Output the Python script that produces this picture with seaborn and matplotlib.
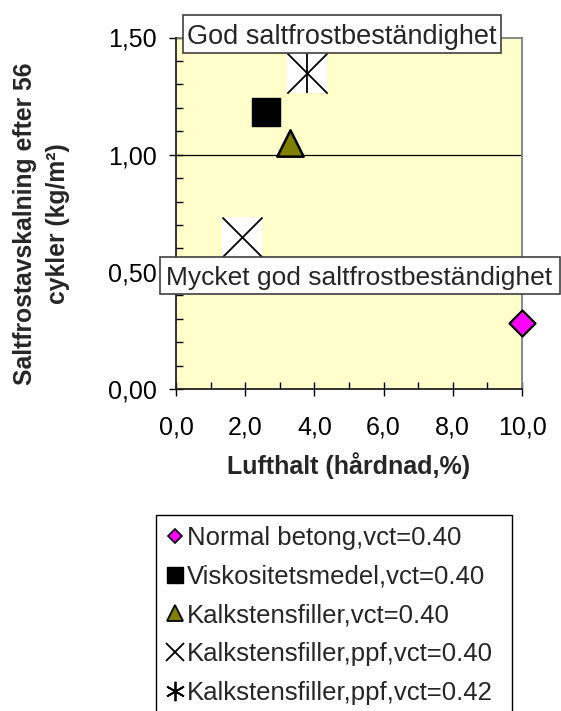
import matplotlib
matplotlib.use("Agg")
import matplotlib.pyplot as plt
from matplotlib.lines import Line2D
from matplotlib.patches import Rectangle
from matplotlib.ticker import MultipleLocator
import seaborn as sns
import pandas as pd

sns.set_theme(style="white")
plt.rcParams["font.family"] = ["Liberation Sans", "DejaVu Sans"]

# Measured series: air content (%) vs. salt-frost scaling after 56 cycles (kg/m²)
series_names = [
    "Normal betong,vct=0.40",
    "Viskositetsmedel,vct=0.40",
    "Kalkstensfiller,vct=0.40",
    "Kalkstensfiller,ppf,vct=0.40",
    "Kalkstensfiller,ppf,vct=0.42",
]
air_content = [10.0, 2.6, 3.3, 1.9, 3.8]
scaling = [0.28, 1.18, 1.05, 0.65, 1.35]

xtick_values = [0, 2, 4, 6, 8, 10]
xtick_labels = ["0,0", "2,0", "4,0", "6,0", "8,0", "10,0"]
ytick_values = [0.0, 0.5, 1.0, 1.5]
ytick_labels = ["0,00", "0,50", "1,00", "1,50"]

zone_labels = ["God saltfrostbeständighet", "Mycket god saltfrostbeständighet"]

df = pd.DataFrame({"serie": series_names, "luft": air_content, "avskalning": scaling})

W, H = 561, 711


def fx(px):
    return px / W


def fy(py):
    return 1 - py / H


fig = plt.figure(figsize=(W / 100, H / 100), dpi=100)
ax = fig.add_axes([fx(176), fy(389), 346 / W, 351.5 / H])
ax.set_facecolor("#FFFFCC")

# class boundary lines
for yv in [0.5, 1.0]:
    ax.axhline(yv, color="black", lw=0.9, zorder=1)

common = dict(ax=ax, x="luft", y="avskalning", legend=False, clip_on=False, zorder=5)

d = df.iloc[[0]]
sns.scatterplot(data=d, marker="D", s=175, color="#FF00FF", edgecolor="black", linewidth=1.6, **common)
d = df.iloc[[1]]
sns.scatterplot(data=d, marker="s", s=400, color="black", edgecolor="black", linewidth=1.0, **common)
d = df.iloc[[2]]
sns.scatterplot(data=d, marker="^", s=360, color="#808000", edgecolor="black", linewidth=1.8, **common)
d = df.iloc[[3]]
sns.scatterplot(data=d, marker="s", s=830, color="white", linewidth=0, **common)
sns.scatterplot(data=d, marker="x", s=830, color="black", linewidth=1.3, **common)
d = df.iloc[[4]]
sns.scatterplot(data=d, marker="s", s=840, color="white", linewidth=0, **common)
sns.scatterplot(data=d, marker="x", s=840, color="black", linewidth=1.3, **common)
sns.scatterplot(data=d, marker="|", s=840, color="black", linewidth=1.3, **common)

ax.set_xlim(0, 10)
ax.set_ylim(0, 1.5)
ax.set_xticks(xtick_values)
ax.set_xticklabels(xtick_labels)
ax.set_yticks(ytick_values)
ax.set_yticklabels(ytick_labels)
ax.xaxis.set_minor_locator(MultipleLocator(1))
ax.yaxis.set_minor_locator(MultipleLocator(0.1))
ax.tick_params(which="major", direction="inout", length=10, width=1, color="black",
               labelsize=18, left=True, bottom=True, labelcolor="black")
ax.tick_params(which="minor", direction="in", length=5, width=1, color="black",
               left=True, bottom=True)
ax.tick_params(axis="x", which="major", pad=14)
ax.tick_params(axis="y", which="major", pad=9)

for side in ["top", "right"]:
    ax.spines[side].set_color("#808080")
    ax.spines[side].set_linewidth(1.3)
for side in ["left", "bottom"]:
    ax.spines[side].set_color("#222222")
    ax.spines[side].set_linewidth(1.3)
    ax.spines[side].set_zorder(4)

ax.set_xlabel("Lufthalt (hårdnad,%)", fontsize=18, fontweight="bold", labelpad=9)
ax.set_ylabel("")
fig.text(fx(41.5), fy(224), "Saltfrostavskalning efter 56\ncykler (kg/m²)",
         rotation=90, ha="center", va="center", fontsize=17.8, fontweight="bold",
         multialignment="center", linespacing=1.45)

# labelled boxes for the two resistance classes
boxes = [(183, 15, 501, 53), (160, 257, 560, 294)]
for (x0, y0, x1, y1) in boxes:
    fig.patches.append(Rectangle((fx(x0), fy(y1)), (x1 - x0) / W, (y1 - y0) / H,
                                 transform=fig.transFigure, facecolor="white",
                                 edgecolor="#404040", linewidth=1.2, zorder=8))
fig.text(fx(342), fy(34), zone_labels[0], ha="center", va="center_baseline",
         fontsize=19.5, zorder=10)
fig.text(fx(166), fy(276), zone_labels[1], ha="left", va="center_baseline",
         fontsize=19, zorder=10)

handles = [
    Line2D([], [], ls="none", marker="D", markersize=7.5, markerfacecolor="#FF00FF",
           markeredgecolor="black", markeredgewidth=1.2),
    Line2D([], [], ls="none", marker="s", markersize=11.5, markerfacecolor="black",
           markeredgecolor="black"),
    Line2D([], [], ls="none", marker="^", markersize=12, markerfacecolor="#808000",
           markeredgecolor="black", markeredgewidth=1.3),
    Line2D([], [], ls="none", marker="x", markersize=13, color="black", markeredgewidth=1.3),
    Line2D([], [], ls="none", marker=(6, 2, 0), markersize=14, color="black",
           markeredgewidth=1.3),
]
leg = fig.legend(handles, series_names, loc="upper left",
                 bbox_to_anchor=(fx(156), fy(516), 356 / W, 0.001), mode="expand",
                 fontsize=18.5, frameon=True, fancybox=False, edgecolor="black",
                 framealpha=1, handlelength=0.6, handletextpad=0.2, borderpad=0.42,
                 labelspacing=0.57, borderaxespad=0)
leg.get_frame().set_linewidth(1.0)

fig.savefig("out.png", dpi=100)
